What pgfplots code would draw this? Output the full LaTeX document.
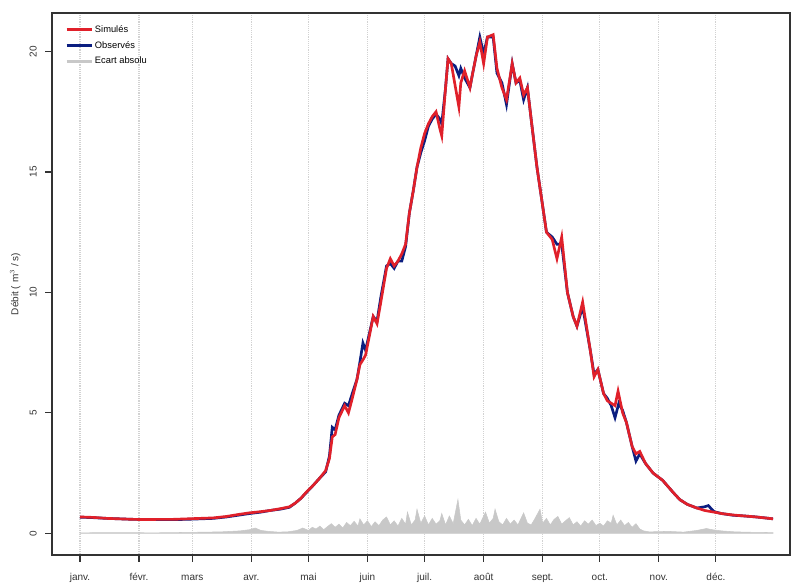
\documentclass[border=0pt]{standalone}
\usepackage{fontspec}
\setmainfont{Liberation Sans}
\usepackage{pgfplots}
\pgfplotsset{compat=1.18}
\usepackage{pgfplotstable}

\definecolor{simred}{HTML}{E0202A}
\definecolor{obsblue}{HTML}{0B1E80}
\definecolor{ecartgray}{HTML}{C8C8C8}
\definecolor{axgray}{HTML}{333333}

% day of year, flow (m3/s)
\pgfplotstableread{
d v
1 0.67
8 0.65
15 0.62
22 0.60
29 0.58
36 0.57
43 0.57
50 0.57
57 0.58
64 0.60
71 0.62
78 0.68
84 0.75
90 0.82
96 0.88
101 0.95
106 1.00
111 1.08
114 1.25
117 1.45
120 1.70
123 1.95
127 2.30
130 2.55
132 3.20
133.5 4.40
135 4.30
137 4.90
140 5.40
142 5.30
144 5.80
146.5 6.40
148 7.10
149.6 7.90
151 7.60
153 8.30
155 9.00
157 8.80
159 9.80
162 11.10
164 11.20
166 11.00
168 11.30
170 11.30
172 11.90
174 13.30
176 14.20
178 15.20
180 15.80
182 16.30
184 16.90
186 17.20
188 17.40
190 17.20
191 17.00
193 18.50
194.3 19.70
196 19.50
198 19.40
200 19.00
201 19.30
203 18.90
205.8 18.50
207 19.00
209 19.80
211 20.60
213 19.90
215 20.60
218 20.60
220 19.10
222.6 18.70
225 17.80
228 19.50
230 18.70
232 18.80
234 18.00
236 18.50
238.4 16.90
241 15.20
243.6 13.80
246 12.50
249 12.30
251.5 12.00
254 12.00
257 10.00
260 9.00
262 8.60
265 9.40
269 7.60
271 6.60
273 6.80
276 5.80
278 5.60
280 5.30
282 4.80
284 5.40
286 5.10
288 4.60
291 3.60
293 3.00
295 3.30
298 2.90
302 2.50
307 2.20
312.5 1.70
316 1.40
320 1.20
325 1.05
329 1.10
331 1.15
334 0.90
338 0.82
344 0.75
350 0.72
356 0.68
363 0.62
365 0.60
}\observes

\pgfplotstableread{
d v
1 0.68
8 0.66
15 0.62
22 0.60
29 0.58
36 0.57
43 0.58
50 0.58
57 0.60
64 0.62
71 0.64
78 0.70
84 0.78
90 0.85
96 0.90
101 0.95
106 1.02
111 1.10
114 1.25
117 1.45
120 1.72
123 1.95
127 2.30
130 2.60
132 3.10
133.5 4.00
135 4.10
137 4.80
140 5.30
142 5.00
144 5.60
146.5 6.40
148 7.00
149.6 7.20
151 7.40
153 8.20
155 9.00
157 8.70
159 9.60
162 11.00
164 11.40
166 11.10
168 11.30
170 11.60
172 12.00
174 13.30
176 14.20
178 15.20
180 16.00
182 16.60
184 17.00
186 17.30
188 17.50
190 16.80
191 16.50
193 18.50
194.3 19.70
196 19.50
198 18.60
200 17.70
201 18.70
203 19.20
205.8 18.50
207 19.00
209 19.80
211 20.40
213 19.50
215 20.60
218 20.70
220 19.30
222.6 18.50
225 18.00
228 19.50
230 18.70
232 18.90
234 18.20
236 18.50
238.4 16.90
241 15.20
243.6 13.80
246 12.50
249 12.20
251.5 11.40
254 12.30
257 10.00
260 9.00
262 8.60
265 9.60
269 7.60
271 6.50
273 6.80
276 5.80
278 5.50
280 5.40
282 5.30
283.6 5.90
286 5.00
288 4.60
291 3.60
293 3.30
295 3.40
298 2.90
302 2.50
307 2.20
312.5 1.70
316 1.40
320 1.20
325 1.05
329 0.95
331 0.92
334 0.88
338 0.82
344 0.76
350 0.72
356 0.68
363 0.62
365 0.60
}\simules

\pgfplotstableread{
d v
1 0.02
20 0.03
40 0.02
60 0.04
75 0.06
85 0.10
90 0.15
93 0.22
96 0.12
100 0.08
105 0.05
110 0.06
115 0.12
118 0.22
121 0.12
123 0.25
125 0.18
127 0.30
129 0.15
131 0.28
133 0.40
135 0.25
137 0.38
139 0.22
141 0.45
143 0.32
145 0.50
147 0.30
148 0.60
150 0.35
152 0.52
154 0.28
156 0.48
158 0.32
160 0.55
162 0.68
164 0.35
166 0.52
168 0.30
170 0.62
172 0.38
173 0.88
175 0.35
177 0.55
178 1.00
180 0.42
182 0.72
184 0.35
186 0.62
188 0.38
190 0.52
191 0.82
193 0.35
195 0.72
197 0.40
199.5 1.40
201 0.55
203 0.35
205 0.58
207 0.32
209 0.62
211 0.38
213 0.72
214 0.88
216 0.42
218 0.62
219 1.00
221 0.48
223 0.35
225 0.62
227 0.38
229 0.55
231 0.35
234 0.85
236 0.42
238 0.35
240 0.62
242.6 1.00
244 0.42
246 0.62
248 0.35
250 0.58
252 0.70
254 0.38
256 0.52
258 0.65
260 0.35
262 0.48
264 0.30
266 0.52
268 0.38
270 0.55
272 0.32
274 0.42
276 0.30
278 0.52
280 0.42
281 0.75
283 0.35
285 0.55
287 0.32
289 0.45
291 0.25
293 0.40
295 0.18
297 0.10
300 0.06
310 0.08
318 0.05
325 0.12
330 0.20
333 0.15
338 0.10
345 0.06
355 0.04
365 0.03
}\ecart

\begin{document}
\begin{tikzpicture}
\begin{axis}[
    scale only axis,
    width=553.5pt, height=406.5pt,
    xmin=-13.7, xmax=373.9,
    ymin=-0.9, ymax=21.6,
    axis line style={axgray, line width=1.1pt},
    tick style={axgray, line width=0.8pt},
    tick align=outside,
    major tick length=5pt,
    xtick pos=bottom, ytick pos=left,
    xtick={1,32,60,91,121,152,182,213,244,274,305,335},
    xticklabels={janv., févr., mars, avr., mai, juin, juil., août, sept., oct., nov., déc.},
    ytick={0,5,10,15,20},
    yticklabel style={rotate=90, anchor=south},
    xticklabel style={text height=1.6ex, text depth=0.3ex},
    xticklabel shift=2pt,
    yticklabel shift=3pt,
    ticklabel style={font=\fontsize{7.5}{9}\selectfont, text=axgray},
    /pgf/number format/assume math mode=true,
    xmajorgrids,
    grid style={densely dotted, gray!35, line width=0.8pt},
    ylabel={Débit ( m$^3$ / s)},
    ylabel style={font=\fontsize{7.5}{9}\selectfont, text=axgray},
    legend style={at={(0.012,0.985)}, anchor=north west, draw=none, fill=none,
        font=\fontsize{7}{8.5}\selectfont, row sep=3.2pt,
        nodes={inner sep=1pt}},
    legend cell align=left,
    legend image code/.code={\draw[#1] (0pt,0pt) -- (19pt,0pt);},
]
\addplot[fill=ecartgray, draw=ecartgray, line width=0.4pt, forget plot]
    table[x=d, y=v] {\ecart} \closedcycle;
\addplot[obsblue, line width=2pt, forget plot] table[x=d, y=v] {\observes};
\addplot[simred, line width=2pt, forget plot] table[x=d, y=v] {\simules};

\addlegendimage{simred, line width=2.4pt}
\addlegendentry{Simulés}
\addlegendimage{obsblue, line width=2.4pt}
\addlegendentry{Observés}
\addlegendimage{ecartgray, line width=2.4pt}
\addlegendentry{Ecart absolu}
\end{axis}
\path ([shift={(-39pt,-21pt)}]current axis.south west)
    rectangle ([shift={(0.75pt,9.75pt)}]current axis.north east);
\end{tikzpicture}
\end{document}
